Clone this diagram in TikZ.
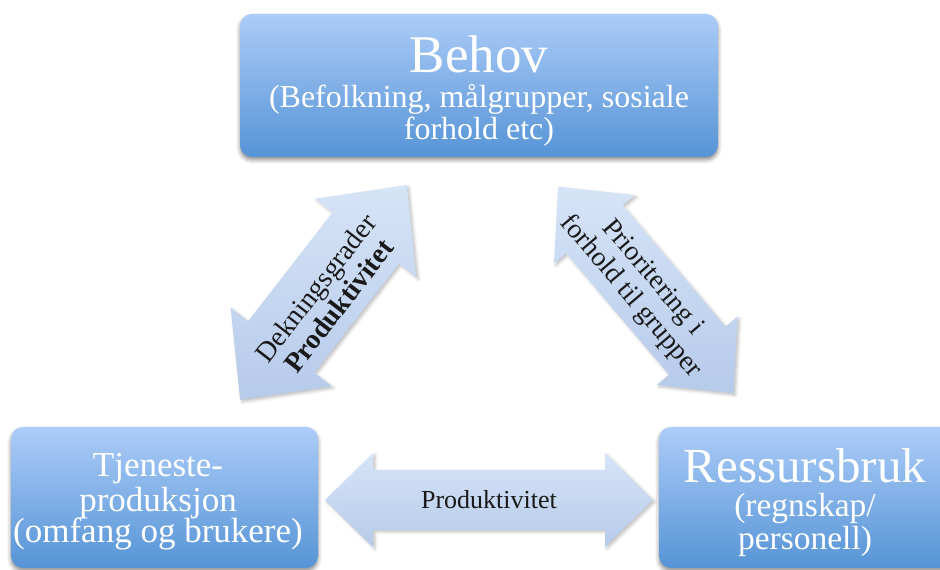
\documentclass[tikz,border=0pt]{standalone}
\usepackage{fontspec}
\setmainfont{Liberation Serif}
\usetikzlibrary{shadows.blur}
\definecolor{boxtop}{RGB}{172,204,248}
\definecolor{boxbot}{RGB}{86,148,214}
\definecolor{arrtop}{RGB}{214,228,247}
\definecolor{arrbot}{RGB}{182,202,234}
\definecolor{txtdark}{RGB}{25,25,25}
\tikzset{
  bluebox/.style={rounded corners=12pt, top color=boxtop, bottom color=boxbot, draw=none, inner sep=0pt,
    blur shadow={shadow xshift=0pt, shadow yshift=-3pt, shadow blur radius=4pt, shadow opacity=45}},
  arrowfill/.style={top color=arrtop, bottom color=arrbot, draw=none,
    blur shadow={shadow xshift=2pt, shadow yshift=-2pt, shadow blur radius=3pt, shadow opacity=25}},
  boxtext/.style={text=white, inner sep=0pt, anchor=base},
  arrowtext/.style={text=txtdark, inner sep=0pt, align=center},
}
\begin{document}
\begin{tikzpicture}[x=1pt,y=1pt]
\clip (0,0) rectangle (940,570);
% boxes
\node[bluebox, minimum width=478pt, minimum height=143pt] (behov) at (479,484.5) {};
\node[bluebox, minimum width=307pt, minimum height=141pt] (tjeneste) at (164.5,72.5) {};
\node[bluebox, minimum width=300pt, minimum height=141pt] (ressurs) at (809,72.5) {};
% box texts
\node[boxtext, font=\fontsize{53}{53}\selectfont] (behovT) at (479,497.5) {Behov};
\node[boxtext, font=\fontsize{32}{32}\selectfont] (behovA) at (479,462) {(Befolkning, målgrupper, sosiale};
\node[boxtext, font=\fontsize{32}{32}\selectfont] (behovB) at (479,430) {forhold etc)};
\node[boxtext, font=\fontsize{35}{35}\selectfont] (tjenA) at (158,93) {Tjeneste-};
\node[boxtext, font=\fontsize{35}{35}\selectfont] (tjenB) at (158,58) {produksjon};
\node[boxtext, font=\fontsize{35}{35}\selectfont] (tjenC) at (158,27) {(omfang og brukere)};
\node[boxtext, font=\fontsize{49}{49}\selectfont] (resT) at (805,87) {Ressursbruk};
\node[boxtext, font=\fontsize{33.5}{33.5}\selectfont] (resA) at (805,53) {(regnskap/};
\node[boxtext, font=\fontsize{33.5}{33.5}\selectfont] (resB) at (805,20) {personell)};
% left diagonal arrow
\begin{scope}[shift={(323.5,277.5)}, rotate=52.2]
\path[arrowfill] (-136,0) -- (-69,64) -- (-69,42) -- (69,42) -- (69,64) -- (136,0)
  -- (69,-64) -- (69,-42) -- (-69,-42) -- (-69,-64) -- cycle;
\end{scope}
% right diagonal arrow
\begin{scope}[shift={(645.8,280)}, rotate=-49.7]
\path[arrowfill] (-135.5,0) -- (-79.5,53) -- (-79.5,37) -- (79.5,37) -- (79.5,53) -- (135.5,0)
  -- (79.5,-53) -- (79.5,-37) -- (-79.5,-37) -- (-79.5,-53) -- cycle;
\end{scope}
% horizontal arrow
\begin{scope}[shift={(489,70)}]
\path[arrowfill] (-164,0) -- (-116,47) -- (-116,30) -- (116,30) -- (116,47) -- (164,0)
  -- (116,-47) -- (116,-30) -- (-116,-30) -- (-116,-47) -- cycle;
\end{scope}
% arrow texts
\node[arrowtext, rotate=52.2, font=\fontsize{28}{29}\selectfont] (leftlbl) at (327,273)
  {Dekningsgrader\\\bfseries Produktivitet};
\node[arrowtext, rotate=-49.7, font=\fontsize{27.5}{29}\selectfont] (rightlbl) at (641,282.5)
  {Prioritering i\\forhold til grupper};
\node[arrowtext, font=\fontsize{26}{26}\selectfont] (hlbl) at (489,70) {Produktivitet};
\end{tikzpicture}
\end{document}
